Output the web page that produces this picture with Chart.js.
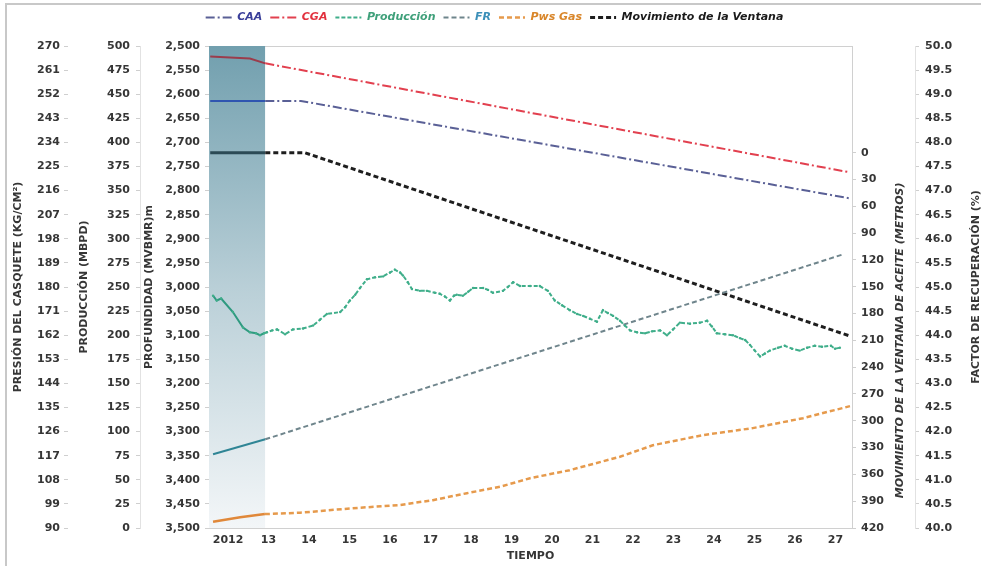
<!DOCTYPE html>
<html>
<head>
<meta charset="utf-8">
<script src="https://cdn.jsdelivr.net/npm/chart.js@4.4.1/dist/chart.umd.min.js"></script>
<style>
  html, body { margin: 0; padding: 0; background: #fff; overflow: hidden; }
  #wrap { position: relative; width: 981px; height: 566px; }
  #frame { position: absolute; left: 5px; top: 3px; right: -10px; bottom: -10px;
           border-left: 2px solid #c8c8c8; border-top: 2px solid #c8c8c8; pointer-events: none; }
</style>
</head>
<body>
<div id="wrap">
  <canvas id="chart" width="981" height="566"></canvas>
  <div id="frame"></div>
</div>
<script>
const X_MIN = 2011.53;
const X_MAX = 2027.41;
const HIST_END = 2012.92;

// time axis
const years = [2012, 2013, 2014, 2015, 2016, 2017, 2018, 2019, 2020, 2021, 2022, 2023, 2024, 2025, 2026, 2027];
const yearLabels = ['2012', '13', '14', '15', '16', '17', '18', '19', '20', '21', '22', '23', '24', '25', '26', '27'];

// axis ticks
const presionTicks = [90, 99, 108, 117, 126, 135, 144, 153, 162, 171, 180, 189, 198, 207, 216, 225, 234, 243, 252, 261, 270];
const produccionTicks = [0, 25, 50, 75, 100, 125, 150, 175, 200, 225, 250, 275, 300, 325, 350, 375, 400, 425, 450, 475, 500];
const profundidadTicks = [2500, 2550, 2600, 2650, 2700, 2750, 2800, 2850, 2900, 2950, 3000, 3050, 3100, 3150, 3200, 3250, 3300, 3350, 3400, 3450, 3500];
const ventanaTicks = [0, 30, 60, 90, 120, 150, 180, 210, 240, 270, 300, 330, 360, 390, 420];
const factorTicks = [40, 40.5, 41, 41.5, 42, 42.5, 43, 43.5, 44, 44.5, 45, 45.5, 46, 46.5, 47, 47.5, 48, 48.5, 49, 49.5, 50];

// series
const caaYears = [2011.56, 2012.92, 2013.8, 2027.35];
const caaDepth = [2614, 2614, 2614, 2816];

const cgaYears = [2011.56, 2012.54, 2012.92, 2027.35];
const cgaDepth = [2522, 2526, 2536, 2762];

const prodYears = [2011.63, 2011.72, 2011.83, 2012.12, 2012.37, 2012.54, 2012.69, 2012.79, 2012.89, 2012.96,
  2013.09, 2013.21, 2013.41, 2013.6, 2013.85, 2014.1, 2014.27, 2014.44, 2014.77, 2014.89,
  2015.01, 2015.14, 2015.26, 2015.43, 2015.63, 2015.83, 2016.0, 2016.12, 2016.25, 2016.32,
  2016.44, 2016.54, 2016.74, 2016.91, 2017.11, 2017.23, 2017.36, 2017.48, 2017.58, 2017.65,
  2017.8, 2017.93, 2018.05, 2018.3, 2018.42, 2018.54, 2018.79, 2018.91, 2019.04, 2019.21,
  2019.46, 2019.7, 2019.9, 2020.07, 2020.25, 2020.44, 2020.62, 2020.77, 2020.94, 2021.11,
  2021.26, 2021.38, 2021.51, 2021.68, 2021.8, 2021.93, 2022.1, 2022.3, 2022.47, 2022.67,
  2022.84, 2022.99, 2023.16, 2023.41, 2023.65, 2023.83, 2023.95, 2024.07, 2024.27, 2024.47,
  2024.64, 2024.77, 2024.89, 2025.01, 2025.14, 2025.26, 2025.38, 2025.58, 2025.75, 2025.93,
  2026.12, 2026.3, 2026.49, 2026.67, 2026.89, 2026.99, 2027.11];
const prodValues = [241, 236, 238, 224, 208, 203, 202, 200, 202, 203,
  205, 206, 201, 206, 207, 210, 216, 222, 224, 229,
  236, 242, 249, 258, 260, 261, 265, 268, 265, 262,
  255, 248, 246, 246, 244, 243, 240, 236, 241, 242,
  241, 245, 249, 249, 247, 244, 246, 250, 255, 251,
  251, 251, 246, 236, 231, 226, 222, 220, 217, 214,
  226, 223, 220, 215, 210, 205, 203, 202, 204, 205,
  200, 206, 213, 212, 213, 215, 209, 202, 201, 200,
  197, 195, 190, 184, 178, 181, 184, 187, 189, 186,
  184, 187, 189, 188, 189, 186, 187];

const frYears = [2011.63, 2012.92, 2027.2];
const frValues = [41.53, 41.84, 45.68];

const pwsYears = [2011.63, 2012.3, 2012.91, 2013.78, 2015.01, 2016.25, 2017.06, 2017.9, 2018.72, 2019.46,
  2020.44, 2021.68, 2022.49, 2023.73, 2024.96, 2026.2, 2027.36];
const pwsValues = [92.3, 94.0, 95.2, 95.7, 97.3, 98.6, 100.4, 103.0, 105.4, 108.6,
  111.6, 116.6, 120.9, 124.7, 127.3, 131.0, 135.5];

const ventanaYears = [2011.56, 2012.92, 2013.9, 2027.35];
const ventanaMetros = [0, 0, 0, 205];

const shadeYears = [X_MIN, HIST_END];
const shadeDepth = [2500, 2500];

const pts = (xs, ys) => xs.map((x, i) => ({ x: x, y: ys[i] }));

const TXT = '#363636';
const tickFont = { family: 'DejaVu Sans', size: 11, weight: 'bold' };
const titleFont = { family: 'DejaVu Sans', size: 11, weight: 'bold' };

function histSegment(histColor) {
  return {
    borderDash: ctx => ctx.p1.parsed.x <= HIST_END + 0.001 ? [] : undefined,
    borderColor: ctx => ctx.p1.parsed.x <= HIST_END + 0.001 ? histColor : undefined
  };
}

function setTicks(arr) {
  return scale => { scale.ticks = arr.map(v => ({ value: v })); };
}

const rightTitles = {
  id: 'rightTitles',
  afterDraw(chart) {
    const c = chart.ctx;
    const mov = chart.scales.mov;
    const fac = chart.scales.factor;
    c.save();
    c.fillStyle = TXT;
    c.textAlign = 'center';
    c.textBaseline = 'middle';
    c.font = 'italic bold 11px "DejaVu Sans"';
    const movMid = (mov.getPixelForValue(0) + mov.getPixelForValue(420)) / 2;
    c.translate(mov.left + 48, movMid);
    c.rotate(-Math.PI / 2);
    c.fillText('MOVIMIENTO DE LA VENTANA DE ACEITE (METROS)', 0, 0);
    c.restore();
    c.save();
    c.fillStyle = TXT;
    c.textAlign = 'center';
    c.textBaseline = 'middle';
    c.font = 'bold 11px "DejaVu Sans"';
    c.translate(fac.left + 61, (chart.chartArea.top + chart.chartArea.bottom) / 2);
    c.rotate(-Math.PI / 2);
    c.fillText('FACTOR DE RECUPERACIÓN (%)', 0, 0);
    c.restore();
  }
};

new Chart(document.getElementById('chart'), {
  type: 'line',
  data: {
    datasets: [
      {
        label: 'CAA', data: pts(caaYears, caaDepth), yAxisID: 'prof',
        borderColor: '#5a6096', borderWidth: 2, borderDash: [9, 3, 2, 3], pointRadius: 0,
        legendColor: '#3a3f9a', segment: histSegment('#2f55b0')
      },
      {
        label: 'CGA', data: pts(cgaYears, cgaDepth), yAxisID: 'prof',
        borderColor: '#e2404f', borderWidth: 2, borderDash: [9, 3, 2, 3], pointRadius: 0,
        legendColor: '#e2323f', segment: histSegment('#9b3c4c')
      },
      {
        label: 'Producción', data: pts(prodYears, prodValues), yAxisID: 'prod',
        borderColor: '#3fae8a', borderWidth: 2, borderDash: [4, 2], pointRadius: 1.2,
        pointBackgroundColor: '#3fae8a', pointBorderWidth: 0,
        legendColor: '#3fa07a', segment: histSegment('#2f9a80')
      },
      {
        label: 'FR', data: pts(frYears, frValues), yAxisID: 'factor',
        borderColor: '#6f858c', borderWidth: 2, borderDash: [5, 3], pointRadius: 0,
        legendColor: '#3b8fb8', segment: histSegment('#2f8595')
      },
      {
        label: 'Pws Gas', data: pts(pwsYears, pwsValues), yAxisID: 'presion',
        borderColor: '#e69a4c', borderWidth: 2.5, borderDash: [5, 3], pointRadius: 0,
        legendColor: '#d9862a', segment: histSegment('#e0883a')
      },
      {
        label: 'Movimiento de la Ventana', data: pts(ventanaYears, ventanaMetros), yAxisID: 'mov',
        borderColor: '#1e1e1e', borderWidth: 3, borderDash: [5, 3], pointRadius: 0,
        legendColor: '#1a1a1a', segment: histSegment('#2b4a55')
      },
      {
        label: '', data: pts(shadeYears, shadeDepth), yAxisID: 'prof', order: 10,
        borderWidth: 0, pointRadius: 0, fill: { value: 3500 },
        backgroundColor: ctx => {
          const area = ctx.chart.chartArea;
          if (!area) return 'rgba(120,165,180,0.6)';
          const g = ctx.chart.ctx.createLinearGradient(0, area.top, 0, area.bottom);
          g.addColorStop(0, '#719fae');
          g.addColorStop(0.5, '#b9cfd7');
          g.addColorStop(1, '#f3f6f8');
          return g;
        }
      }
    ]
  },
  options: {
    responsive: false,
    animation: false,
    layout: { padding: { left: 8, top: 4, right: 0, bottom: 0 } },
    plugins: {
      tooltip: { enabled: false },
      legend: {
        position: 'top',
        labels: {
          usePointStyle: true, pointStyle: 'line', pointStyleWidth: 26, boxHeight: 11,
          padding: 8,
          font: { family: 'DejaVu Sans', size: 11, weight: 'bold', style: 'italic' },
          filter: item => item.text !== '',
          generateLabels: chart => Chart.defaults.plugins.legend.labels.generateLabels(chart).map(item => {
            const ds = chart.data.datasets[item.datasetIndex];
            item.fontColor = ds.legendColor;
            item.strokeStyle = ds.borderColor;
            item.lineWidth = ds.borderWidth;
            item.lineDash = ds.borderDash || [];
            return item;
          })
        }
      }
    },
    scales: {
      x: {
        type: 'linear', position: 'bottom', min: X_MIN, max: X_MAX,
        afterBuildTicks: setTicks(years),
        afterFit: s => { s.height = 38; },
        grid: { display: false, drawTicks: false },
        border: { display: true, color: '#d0d0d0' },
        ticks: { autoSkip: false, maxRotation: 0, padding: 6, color: TXT, font: tickFont,
                 callback: v => yearLabels[years.indexOf(v)] },
        title: { display: true, text: 'TIEMPO', color: TXT, font: titleFont, padding: { top: 2, bottom: 3 } }
      },
      xTop: {
        type: 'linear', position: 'top', min: X_MIN, max: X_MAX,
        afterFit: s => { s.height = 13; },
        grid: { display: false, drawTicks: false },
        border: { display: true, color: '#d0d0d0' },
        ticks: { display: false }
      },
      presion: {
        type: 'linear', position: 'left', weight: 3, min: 90, max: 270,
        afterBuildTicks: setTicks(presionTicks),
        afterFit: s => { s.width = 60; },
        grid: { drawOnChartArea: false, tickLength: 4, color: '#cfcfcf' },
        border: { display: false },
        ticks: { padding: 4, color: TXT, font: tickFont, callback: v => String(v) },
        title: { display: true, text: 'PRESIÓN DEL CASQUETE (KG/CM²)', color: TXT, font: titleFont, padding: { top: 4, bottom: 0 } }
      },
      prod: {
        type: 'linear', position: 'left', weight: 2, min: 0, max: 500,
        afterBuildTicks: setTicks(produccionTicks),
        afterFit: s => { s.width = 72; },
        grid: { drawOnChartArea: false, tickLength: 4, color: '#cfcfcf' },
        border: { display: true, color: '#e2e2e2' },
        ticks: { padding: 6, color: TXT, font: tickFont, callback: v => String(v) },
        title: { display: true, text: 'PRODUCCIÓN (MBPD)', color: TXT, font: titleFont, padding: { top: 10, bottom: 0 } }
      },
      prof: {
        type: 'linear', position: 'left', weight: 1, min: 2500, max: 3500, reverse: true,
        afterBuildTicks: setTicks(profundidadTicks),
        afterFit: s => { s.width = 69; },
        grid: { drawOnChartArea: false, tickLength: 4, color: '#cfcfcf' },
        border: { display: true, color: '#d0d0d0' },
        ticks: { padding: 5, color: TXT, font: tickFont, callback: v => v.toLocaleString('en-US') },
        title: { display: true, text: 'PROFUNDIDAD (MVBMR)m', color: TXT, font: titleFont, padding: { top: 3, bottom: 0 } }
      },
      mov: {
        type: 'linear', position: 'right', weight: 1, min: -119.5, max: 420, reverse: true,
        afterBuildTicks: setTicks(ventanaTicks),
        afterFit: s => { s.width = 63; },
        grid: { drawOnChartArea: false, tickLength: 4, color: '#cfcfcf' },
        border: { display: true, color: '#d0d0d0' },
        ticks: { padding: 5, color: TXT, font: tickFont, callback: v => String(v) }
      },
      factor: {
        type: 'linear', position: 'right', weight: 2, min: 40, max: 50,
        afterBuildTicks: setTicks(factorTicks),
        afterFit: s => { s.width = 66; },
        grid: { drawOnChartArea: false, tickLength: 4, color: '#cfcfcf' },
        border: { display: true, color: '#e2e2e2' },
        ticks: { padding: 6, color: TXT, font: tickFont, callback: v => v.toFixed(1) }
      }
    }
  },
  plugins: [rightTitles]
});
</script>
</body>
</html>
